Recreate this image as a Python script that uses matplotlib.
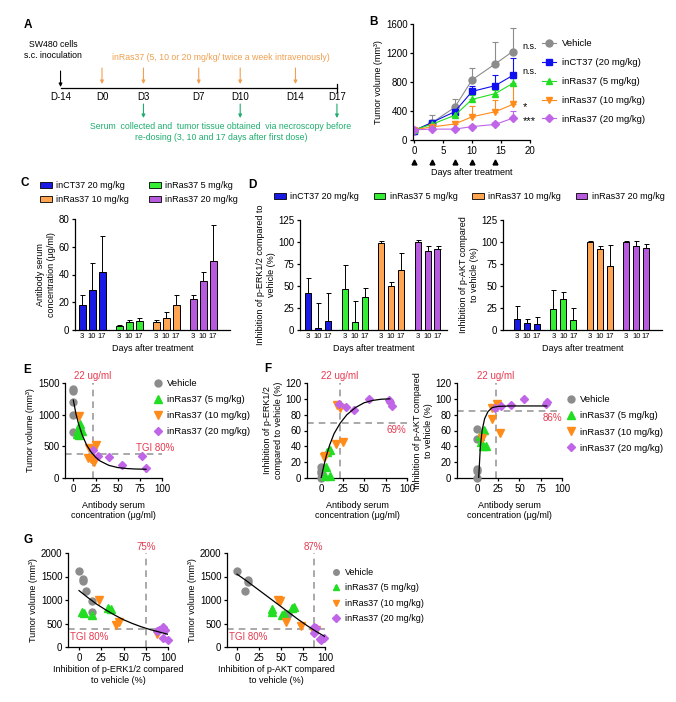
import numpy as np
import matplotlib
matplotlib.use('Agg')
import matplotlib.pyplot as plt
from matplotlib.lines import Line2D
from matplotlib.patches import Patch

plt.rcParams['font.family'] = ['Liberation Sans', 'DejaVu Sans']
plt.rcParams['font.size'] = 6.5
plt.rcParams['axes.linewidth'] = 0.9
plt.rcParams['xtick.labelsize'] = 7
plt.rcParams['ytick.labelsize'] = 7
plt.rcParams['xtick.major.size'] = 2.5
plt.rcParams['ytick.major.size'] = 2.5
plt.rcParams['xtick.major.width'] = 0.9
plt.rcParams['ytick.major.width'] = 0.9
plt.rcParams['xtick.major.pad'] = 1.5
plt.rcParams['ytick.major.pad'] = 1.5
plt.rcParams['axes.labelpad'] = 2

W, H = 676, 702

GREY = '#8c8c8c'
BLUE = '#1010ee'
GREEN = '#22dd22'
ORANGE = '#ff8c1a'
PURPLE = '#c064e8'
BAR_COLORS = ['#1a1ae6', '#33ee33', '#ffa552', '#b85ade']
RED = '#e63a50'
DASH_C = '#9b9b9b'
A_ORANGE = '#f0a050'
A_GREEN = '#1fae6e'

# A: schedule
tl_days = [-14, 0, 3, 7, 10, 14, 17]
tl_labels = ['D-14', 'D0', 'D3', 'D7', 'D10', 'D14', 'D17']
dose_days = [0, 3, 7, 10, 14]
sample_days = [3, 10, 17]

# B: tumour growth
days_b = [0, 3, 7, 10, 14, 17]
vol_vehicle = [130, 235, 450, 830, 1050, 1220]
err_vehicle = [20, 110, 110, 170, 300, 330]
vol_inct37 = [130, 240, 390, 670, 750, 890]
err_inct37 = [20, 40, 60, 80, 150, 240]
vol_ras5 = [140, 215, 340, 560, 640, 780]
err_ras5 = [20, 30, 50, 60, 50, 70]
vol_ras10 = [140, 180, 220, 320, 390, 490]
err_ras10 = [20, 30, 40, 150, 160, 250]
vol_ras20 = [140, 150, 150, 185, 215, 300]
err_ras20 = [20, 20, 20, 20, 40, 100]
b_labels = ['Vehicle', 'inCT37 (20 mg/kg)', 'inRas37 (5 mg/kg)',
            'inRas37 (10 mg/kg)', 'inRas37 (20 mg/kg)']
sig_labels = ['n.s.', 'n.s.', '*', '***']
sig_y = [1290, 940, 460, 260]

# C / D: bars (groups x days 3, 10, 17)
bar_groups = ['inCT37 20 mg/kg', 'inRas37 5 mg/kg', 'inRas37 10 mg/kg', 'inRas37 20 mg/kg']
bar_days = ['3', '10', '17']
conc_mean = [[18, 29, 42], [3, 5.5, 6.5], [5.5, 8.5, 18], [22, 35, 50]]
conc_err = [[7, 19, 26], [0.5, 1.5, 2.5], [1.5, 4.5, 7], [3, 7, 26]]
erk_mean = [[42, 2, 10], [47, 9, 37], [99, 50, 68], [100, 90, 92]]
erk_err = [[17, 29, 32], [27, 24, 11], [2, 4, 20], [2, 5, 3]]
akt_mean = [[12, 8, 7], [24, 35, 11], [100, 92, 73], [100, 95, 93]]
akt_err = [[15, 4, 8], [22, 8, 14], [1, 3, 24], [1, 6, 5]]

# E-G: scatter groups (vehicle, 5, 10, 20 mg/kg)
sc_labels = ['Vehicle', 'inRas37 (5 mg/kg)', 'inRas37 (10 mg/kg)', 'inRas37 (20 mg/kg)']
e_x = [[0, 0, 0, 0, 0], [4, 5, 7, 8, 10, 6], [6, 18, 26, 16, 20, 23], [22, 28, 40, 55, 78, 82]]
e_y = [[1400, 1370, 1200, 1000, 720], [700, 760, 850, 800, 740, 680],
       [980, 470, 520, 310, 300, 260], [440, 350, 330, 210, 340, 160]]
e_fit_x = [0, 3, 6, 10, 15, 20, 25, 30, 40, 50, 60, 70, 82]
e_fit_y = [1230, 1010, 850, 680, 520, 410, 330, 270, 200, 165, 150, 142, 138]

ferk_x = [[0, 0, 1, 0, 0], [6.6, 10.5, 6, 10.5, 5], [3, 5, 18, 22, 17, 25], [21, 29, 38, 56, 79, 80, 82]]
ferk_y = [[14, 9, 3, 0, 6], [33, 35, 14, 2, 3], [27, 28, 92, 88, 43, 45], [93, 90, 86, 100, 98, 96, 91]]
ferk_fit_x = [0, 3, 6, 10, 15, 22, 30, 40, 50, 60, 70, 80]
ferk_fit_y = [0, 15, 28, 42, 56, 69, 80, 89, 95, 98, 99.5, 100]

fakt_x = [[0, 0, 0, 0, 0], [4, 8, 7, 11, 5], [5.5, 18, 18, 23, 27], [21, 28, 40, 55, 81, 82]]
fakt_y = [[62, 49, 11, 9, 0], [53, 61, 40, 40, 45], [50, 75, 88, 94, 57], [88, 91, 92, 100, 94, 96]]
fakt_fit_x = [2, 3, 4, 6, 9, 13, 18, 25, 40, 60, 82]
fakt_fit_y = [0, 20, 40, 60, 75, 84, 89, 90.5, 91, 91, 91]

gerk_x = [[0, 4, 4, 8, 15, 15], [3, 6, 15, 33, 36], [23, 42, 45, 88], [90, 94, 94, 97, 100, 88]]
gerk_y = [[1620, 1440, 1400, 1195, 980, 735], [750, 725, 690, 840, 800],
          [1000, 465, 535, 270], [355, 415, 200, 355, 145, 350]]
gerk_fit_x = [0, 10, 20, 30, 40, 50, 60, 70, 80, 90, 100]
gerk_fit_y = [1200, 1050, 910, 790, 680, 580, 500, 430, 370, 320, 270]

gakt_x = [[0, 9.4, 12, 12, 58], [40, 40, 51, 53, 62, 65], [47, 49, 56, 73, 87, 90], [87, 90, 94, 96, 99, 88]]
gakt_y = [[1620, 1195, 1420, 1380, 712], [800, 745, 675, 700, 820, 860],
          [1000, 980, 535, 440, 320, 355], [425, 395, 180, 140, 200, 300]]
gakt_fit_x = [0, 10, 20, 30, 40, 50, 60, 70, 80, 90, 100]
gakt_fit_y = [1550, 1420, 1280, 1140, 1000, 860, 720, 580, 450, 330, 220]

fig = plt.figure(figsize=(W / 100, H / 100), dpi=100)


def add_ax(l, t, r, b):
    ax = fig.add_axes([l / W, 1 - b / H, (r - l) / W, (b - t) / H])
    ax.spines['top'].set_visible(False)
    ax.spines['right'].set_visible(False)
    return ax


def panel_letter(x, y, s):
    fig.text(x / W, 1 - y / H, s, fontsize=8.5, fontweight='bold', ha='center', va='center')


# ---------- A ----------
axA = add_ax(30, 35, 352, 145)
axA.axis('off')
px_day = 13.82
axA.set_xlim((30 - 102) / px_day, (352 - 102) / px_day)
axA.set_ylim(145, 35)
tl_x = [-3.0 if d < 0 else d for d in tl_days]
axA.plot([tl_x[0], tl_x[-1]], [88, 88], color='k', lw=0.9)
axA.plot([tl_x[-1], tl_x[-1]], [84, 92], color='k', lw=0.9)
for x, lab in zip(tl_x, tl_labels):
    axA.text(x, 97, lab, ha='center', va='center', fontsize=7)
arrow = dict(arrowstyle='-|>', lw=0.8, mutation_scale=5, shrinkA=0, shrinkB=0)
axA.annotate('', xy=(tl_x[0], 87), xytext=(tl_x[0], 71), arrowprops=dict(arrow, color='k'))
for d in dose_days:
    axA.annotate('', xy=(d, 84), xytext=(d, 68), arrowprops=dict(arrow, color=A_ORANGE))
for d in sample_days:
    axA.annotate('', xy=(d, 118), xytext=(d, 104), arrowprops=dict(arrow, color=A_GREEN))
axA.text(-3.55, 50, 'SW480 cells\ns.c. inoculation', ha='center', va='center', fontsize=6.3,
         linespacing=1.3)
axA.text(8.6, 57, 'inRas37 (5, 10 or 20 mg/kg/ twice a week intravenously)', ha='center',
         va='center', fontsize=6.3, color=A_ORANGE)
axA.text(8.6, 132, 'Serum  collected and  tumor tissue obtained  via necroscopy before\n'
         're-dosing (3, 10 and 17 days after first dose)', ha='center', va='center',
         fontsize=6.3, color=A_GREEN, linespacing=1.3)
panel_letter(28, 25, 'A')

# ---------- B ----------
axB = add_ax(413, 24, 530, 140)
b_series = [(vol_vehicle, err_vehicle, GREY, 'o', 5),
            (vol_inct37, err_inct37, BLUE, 's', 5),
            (vol_ras5, err_ras5, GREEN, '^', 5),
            (vol_ras10, err_ras10, ORANGE, 'v', 5),
            (vol_ras20, err_ras20, PURPLE, 'D', 4.3)]
handles = []
for (vals, errs, col, mk, ms), lab in zip(b_series, b_labels):
    axB.errorbar(days_b, vals, yerr=[np.zeros(len(errs)), errs], color=col, marker=mk, ms=ms,
                 lw=0.8, elinewidth=0.8, capsize=2, capthick=0.8)
    handles.append(Line2D([0], [0], color=col, marker=mk, ms=ms, lw=0.8, label=lab))
axB.set_xlim(-0.2, 20)
axB.set_ylim(0, 1600)
axB.set_xticks([0, 5, 10, 15, 20])
axB.set_yticks([0, 400, 800, 1200, 1600])
axB.plot(dose_days, [-0.19] * len(dose_days), '^k', ms=3.5,
         transform=axB.get_xaxis_transform(), clip_on=False)
axB.set_xlabel('Days after treatment', labelpad=9)
axB.set_ylabel('Tumor volume (mm³)')
for s, y in zip(sig_labels, sig_y):
    fs = 6.5 if s.startswith('n') else 8
    axB.text(18.7, y, s, fontsize=fs, ha='left', va='center')
axB.legend(handles=handles, loc='upper left', bbox_to_anchor=(1.1, 0.87), frameon=False,
           fontsize=6.8, handlelength=1.5, handletextpad=0.6, labelspacing=1.05,
           borderaxespad=0, borderpad=0)
panel_letter(373, 22, 'B')


# ---------- C / D ----------
def bar_panel(ax, means, errs, group_step, width, xlim, ylim, yticks):
    pos_all = []
    for g, (m, e) in enumerate(zip(means, errs)):
        pos = [g * group_step + i for i in range(len(m))]
        ax.bar(pos, m, width=width, color=BAR_COLORS[g], edgecolor='k', lw=0.7)
        ax.errorbar(pos, m, yerr=[np.zeros(len(e)), e], fmt='none', ecolor='k',
                    elinewidth=0.7, capsize=1.8, capthick=0.7)
        pos_all += pos
    ax.set_xticks(pos_all)
    ax.set_xticklabels(bar_days * len(means), fontsize=5.5)
    ax.tick_params(axis='x', length=0, pad=2)
    ax.set_xlim(*xlim)
    ax.set_ylim(*ylim)
    ax.set_yticks(yticks)
    ax.set_xlabel('Days after treatment', labelpad=3)


axC = add_ax(75, 219, 230, 330)
bar_panel(axC, conc_mean, conc_err, 3.7, 0.7, (-0.7, 14.8), (0, 80), [0, 20, 40, 60, 80])
axC.set_ylabel('Antibody serum\nconcentration (μg/ml)')
bar_handles = [Patch(facecolor=c, edgecolor='k', lw=0.6, label=g) for c, g in zip(BAR_COLORS, bar_groups)]
fig.legend(handles=[bar_handles[0], bar_handles[2], bar_handles[1], bar_handles[3]], ncol=2,
           loc='upper left', bbox_to_anchor=(40 / W, 1 - 181 / H), frameon=False, fontsize=6.5,
           handlelength=1.3, handleheight=0.7, columnspacing=2.2, labelspacing=0.6,
           handletextpad=0.5, borderpad=0, borderaxespad=0)
panel_letter(25, 183, 'C')

axD1 = add_ax(300, 220, 447, 330)
bar_panel(axD1, erk_mean, erk_err, 3.65, 0.6, (-0.8, 13.9), (0, 125), [0, 25, 50, 75, 100, 125])
axD1.set_ylabel('Inhibition of p-ERK1/2 compared to\nvehicle (%)')
axD2 = add_ax(503, 220, 662, 330)
bar_panel(axD2, akt_mean, akt_err, 3.64, 0.6, (-1.4, 14.5), (0, 125), [0, 25, 50, 75, 100, 125])
axD2.set_ylabel('Inhibition of p-AKT compared\nto vehicle (%)')
fig.legend(handles=bar_handles, ncol=4, loc='upper left', bbox_to_anchor=(274 / W, 1 - 192 / H),
           frameon=False, fontsize=6.5, handlelength=1.3, handleheight=0.7, columnspacing=1.6,
           handletextpad=0.5, borderpad=0, borderaxespad=0)
panel_letter(252, 185, 'D')

# ---------- E / F / G ----------
sc_colors = [GREY, GREEN, ORANGE, PURPLE]
sc_markers = ['o', '^', 'v', 'D']
sc_sizes = [5, 5.5, 5.5, 4.5]


def scatter_panel(ax, xs, ys, fit_x, fit_y, xlim, ylim, yticks):
    for x, y, c, m, s in zip(xs, ys, sc_colors, sc_markers, sc_sizes):
        ax.plot(x, y, ls='none', marker=m, ms=s, color=c, mec=c, clip_on=False, zorder=3)
    ax.plot(fit_x, fit_y, color='k', lw=0.9, zorder=4)
    ax.set_xlim(*xlim)
    ax.set_ylim(*ylim)
    ax.set_xticks([0, 25, 50, 75, 100])
    ax.set_yticks(yticks)


def sc_legend(ax, x, y, fontsize=6.8, spacing=0.75, ms_scale=1.0):
    hs = [Line2D([0], [0], ls='none', marker=m, ms=s * ms_scale, color=c, label=l)
          for c, m, s, l in zip(sc_colors, sc_markers, sc_sizes, sc_labels)]
    ax.legend(handles=hs, loc='upper left', bbox_to_anchor=(x, y), frameon=False,
              fontsize=fontsize, handlelength=0.8, handletextpad=0.5, labelspacing=spacing,
              borderaxespad=0, borderpad=0)


dash = dict(color=DASH_C, lw=1.2, ls=(0, (4, 3)), zorder=1)

axE = add_ax(65, 383, 162, 478)
scatter_panel(axE, e_x, e_y, e_fit_x, e_fit_y, (-9.4, 100), (0, 1500), [0, 500, 1000, 1500])
axE.axvline(22, **dash)
axE.axhline(380, **dash)
axE.text(22, 1530, '22 ug/ml', color=RED, fontsize=7, ha='center', va='bottom')
axE.text(92, 400, 'TGI 80%', color=RED, fontsize=7, ha='center', va='bottom')
axE.set_ylabel('Tumor volume (mm³)')
axE.set_xlabel('Antibody serum\nconcentration (μg/ml)', labelpad=5)
sc_legend(axE, 0.92, 1.04)
panel_letter(27, 370, 'E')

axF1 = add_ax(307, 383, 407, 478)
scatter_panel(axF1, ferk_x, ferk_y, ferk_fit_x, ferk_fit_y, (-16.5, 100), (0, 120),
              [0, 20, 40, 60, 80, 100, 120])
axF1.axvline(22, **dash)
axF1.axhline(69, **dash)
axF1.text(22, 123, '22 ug/ml', color=RED, fontsize=7, ha='center', va='bottom')
axF1.text(88, 60, '69%', color=RED, fontsize=7, ha='center', va='center')
axF1.set_ylabel('Inhibition of p-ERK1/2\ncompared to vehicle (%)')
axF1.set_xlabel('Antibody serum\nconcentration (μg/ml)', labelpad=5)

axF2 = add_ax(457, 383, 562, 478)
scatter_panel(axF2, fakt_x, fakt_y, fakt_fit_x, fakt_fit_y, (-23.5, 100), (0, 120),
              [0, 20, 40, 60, 80, 100, 120])
axF2.axvline(22, **dash)
axF2.axhline(85, **dash)
axF2.text(22, 123, '22 ug/ml', color=RED, fontsize=7, ha='center', va='bottom')
axF2.text(89, 76, '86%', color=RED, fontsize=7, ha='center', va='center')
axF2.set_ylabel('Inhibition of p-AKT compared\nto vehicle (%)')
axF2.set_xlabel('Antibody serum\nconcentration (μg/ml)', labelpad=5)
sc_legend(axF2, 1.05, 0.87)
panel_letter(268, 369, 'F')

axG1 = add_ax(68, 553, 168, 647)
scatter_panel(axG1, gerk_x, gerk_y, gerk_fit_x, gerk_fit_y, (-12.4, 100), (0, 2000),
              [0, 500, 1000, 1500, 2000])
axG1.axvline(75, **dash)
axG1.axhline(380, **dash)
axG1.text(75, 2030, '75%', color=RED, fontsize=7, ha='center', va='bottom')
axG1.text(-10, 320, 'TGI 80%', color=RED, fontsize=7, ha='left', va='top')
axG1.set_ylabel('Tumor volume (mm³)')
axG1.set_xlabel('Inhibition of p-ERK1/2 compared\nto vehicle (%)', labelpad=2)

axG2 = add_ax(227, 553, 325, 647)
scatter_panel(axG2, gakt_x, gakt_y, gakt_fit_x, gakt_fit_y, (-11.3, 100), (0, 2000),
              [0, 500, 1000, 1500, 2000])
axG2.axvline(87, **dash)
axG2.axhline(380, **dash)
axG2.text(87, 2030, '87%', color=RED, fontsize=7, ha='center', va='bottom')
axG2.text(-9, 320, 'TGI 80%', color=RED, fontsize=7, ha='left', va='top')
axG2.set_ylabel('Tumor volume (mm³)')
axG2.set_xlabel('Inhibition of p-AKT compared\nto vehicle (%)', labelpad=2)
sc_legend(axG2, 1.08, 0.84, fontsize=6.5, spacing=0.7, ms_scale=0.8)
panel_letter(28, 540, 'G')

fig.savefig('out.png', dpi=100)
